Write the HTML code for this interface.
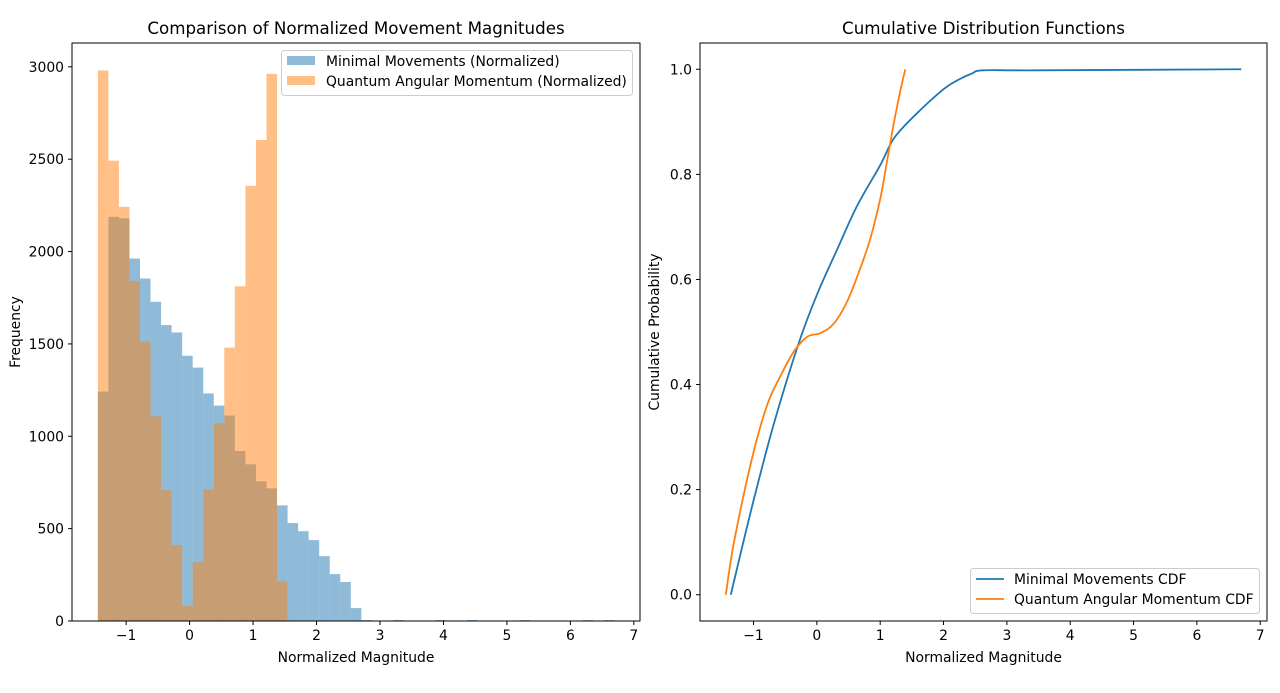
<!DOCTYPE html>
<html><head><meta charset="utf-8"><style>
body{margin:0;background:#fff}
svg text{font-family:"DejaVu Sans","Liberation Sans",sans-serif;fill:#000}
</style></head><body>
<svg id="fig" width="1280" height="688" viewBox="0 0 1280 688" xmlns="http://www.w3.org/2000/svg">
<rect width="1280" height="688" fill="#fff"/>
<g id="left"></g>
<g id="right"></g>
</svg>
<script>
// ---- Histogram data ----
const binStart = -1.446;
const binWidth = 0.1661;
const minimalCounts = [1242,2188,2180,1962,1854,1728,1602,1562,1436,1372,1232,1166,1112,920,848,756,718,626,530,486,438,351,254,211,70,5,0,0,5,0,0,0,5,0,0,5,0,0,0,0,5,0,0,0,0,0,5,0,5];
const quantumCounts = [2980,2492,2242,1840,1512,1108,708,412,82,318,712,1070,1480,1812,2356,2604,2962,214];
const histXTicks = [-1,0,1,2,3,4,5,6,7];
const histYTicks = [0,500,1000,1500,2000,2500,3000];
// ---- CDF data ----
const minimalCdfX = [-1.359,-1.019,-0.677,-0.283,0.005,0.32,0.635,1.003,1.213,1.528,2.0,2.25,2.45,2.63,3.5,6.7];
const minimalCdfY = [0,0.17,0.326,0.48,0.572,0.657,0.74,0.818,0.868,0.91,0.962,0.981,0.992,0.998,0.998,1.0];
const quantumCdfX = [-1.438,-1.307,-1.019,-0.782,-0.572,-0.362,-0.152,0.058,0.268,0.478,0.688,0.845,1.003,1.108,1.213,1.318,1.396];
const quantumCdfY = [0,0.101,0.262,0.362,0.417,0.463,0.491,0.498,0.516,0.558,0.622,0.678,0.755,0.825,0.896,0.959,1.0];
const cdfXTicks = [-1,0,1,2,3,4,5,6,7];
const cdfYTicks = [0,0.2,0.4,0.6,0.8,1.0];

const NS="http://www.w3.org/2000/svg";
function mk(parent,tag,attrs,text){const e=document.createElementNS(NS,tag);for(const k in attrs)e.setAttribute(k,attrs[k]);if(text!==undefined)e.textContent=text;parent.appendChild(e);return e;}
function fmtTick(v){return v<0?'\u2212'+Math.abs(v):String(v);}
const FS=13.9, TFS=16.7;

// ---- Left panel ----
(function(){
const g=document.getElementById('left');
const L=72,R=640,T=43,B=621;
const x0=-1.853,x1=7.097,y0=0,y1=3129;
const sx=v=>L+(v-x0)/(x1-x0)*(R-L);
const sy=v=>B-(v-y0)/(y1-y0)*(B-T);
minimalCounts.forEach((c,i)=>{ if(c<=0)return;
  const a=binStart+i*binWidth;
  const r=mk(g,'rect',{x:sx(a),y:sy(c),width:sx(a+binWidth)-sx(a),height:sy(0)-sy(c),fill:'#1f77b4','fill-opacity':0.5});
  
  
});
quantumCounts.forEach((c,i)=>{ if(c<=0)return;
  const a=binStart+i*binWidth;
  const r=mk(g,'rect',{x:sx(a),y:sy(c),width:sx(a+binWidth)-sx(a),height:sy(0)-sy(c),fill:'#ff7f0e','fill-opacity':0.5});
  
  
});
const f=mk(g,'rect',{x:L,y:T,width:R-L,height:B-T,fill:'none',stroke:'#000','stroke-width':1});


histXTicks.forEach(v=>{const x=sx(v);
  mk(g,'line',{x1:x,x2:x,y1:B,y2:B+4,stroke:'#000'});
  const t=mk(g,'text',{x:x,y:B+19,'text-anchor':'middle','font-size':FS},fmtTick(v));
  
  
});
histYTicks.forEach(v=>{const y=sy(v);
  mk(g,'line',{x1:L-4,x2:L,y1:y,y2:y,stroke:'#000'});
  const t=mk(g,'text',{x:L-8,y:y+5,'text-anchor':'end','font-size':FS},String(v));
  
  
});
const tt=mk(g,'text',{x:(L+R)/2,y:34,'text-anchor':'middle','font-size':TFS},'Comparison of Normalized Movement Magnitudes');

const xl=mk(g,'text',{x:(L+R)/2,y:662,'text-anchor':'middle','font-size':FS},'Normalized Magnitude');

const yl=mk(g,'text',{x:0,y:0,'text-anchor':'middle','font-size':FS,transform:`translate(20,${(T+B)/2}) rotate(-90)`},'Frequency');

const lg=mk(g,'g',{});

mk(lg,'rect',{x:281.5,y:50.5,width:351,height:45,rx:3,fill:'#fff','fill-opacity':0.8,stroke:'#ccc'});
mk(lg,'rect',{x:287,y:56,width:28,height:9,fill:'#1f77b4','fill-opacity':0.5});
mk(lg,'text',{x:326,y:66,'font-size':FS},'Minimal Movements (Normalized)');
mk(lg,'rect',{x:287,y:76,width:28,height:9,fill:'#ff7f0e','fill-opacity':0.5});
mk(lg,'text',{x:326,y:86,'font-size':FS},'Quantum Angular Momentum (Normalized)');
})();

// ---- Right panel ----
(function(){
const g=document.getElementById('right');
const L=700,R=1267,T=43,B=621;
const x0=-1.845,x1=7.107,y0=-0.05,y1=1.05;
const sx=v=>L+(v-x0)/(x1-x0)*(R-L);
const sy=v=>B-(v-y0)/(y1-y0)*(B-T);
function line(xs,ys,color,name){
  const pts=xs.map((x,i)=>[sx(x),sy(ys[i])]);
  let d='M'+pts[0][0]+','+pts[0][1];
  for(let i=0;i<pts.length-1;i++){
    const p0=pts[Math.max(0,i-1)],p1=pts[i],p2=pts[i+1],p3=pts[Math.min(pts.length-1,i+2)];
    const c1=[p1[0]+(p2[0]-p0[0])/6,p1[1]+(p2[1]-p0[1])/6];
    const c2=[p2[0]-(p3[0]-p1[0])/6,p2[1]-(p3[1]-p1[1])/6];
    d+=` C${c1[0]},${c1[1]} ${c2[0]},${c2[1]} ${p2[0]},${p2[1]}`;
  }
  const p=mk(g,'path',{d:d,fill:'none',stroke:color,'stroke-width':1.8});
  
  
}
line(minimalCdfX,minimalCdfY,'#1f77b4','minimal-cdf-line');
line(quantumCdfX,quantumCdfY,'#ff7f0e','quantum-cdf-line');
const f=mk(g,'rect',{x:L,y:T,width:R-L,height:B-T,fill:'none',stroke:'#000','stroke-width':1});


cdfXTicks.forEach(v=>{const x=sx(v);
  mk(g,'line',{x1:x,x2:x,y1:B,y2:B+4,stroke:'#000'});
  const t=mk(g,'text',{x:x,y:B+19,'text-anchor':'middle','font-size':FS},fmtTick(v));
  
  
});
cdfYTicks.forEach(v=>{const y=sy(v);
  mk(g,'line',{x1:L-4,x2:L,y1:y,y2:y,stroke:'#000'});
  const t=mk(g,'text',{x:L-8,y:y+5,'text-anchor':'end','font-size':FS},v.toFixed(1));
  
  
});
const tt=mk(g,'text',{x:(L+R)/2,y:34,'text-anchor':'middle','font-size':TFS},'Cumulative Distribution Functions');

const xl=mk(g,'text',{x:(L+R)/2,y:662,'text-anchor':'middle','font-size':FS},'Normalized Magnitude');

const yl=mk(g,'text',{x:0,y:0,'text-anchor':'middle','font-size':FS,transform:`translate(659,${(T+B)/2}) rotate(-90)`},'Cumulative Probability');

const lg=mk(g,'g',{});

mk(lg,'rect',{x:970.5,y:568.5,width:289,height:45,rx:3,fill:'#fff','fill-opacity':0.8,stroke:'#ccc'});
mk(lg,'line',{x1:976,x2:1004,y1:579,y2:579,stroke:'#1f77b4','stroke-width':1.8});
mk(lg,'text',{x:1014,y:584,'font-size':FS},'Minimal Movements CDF');
mk(lg,'line',{x1:976,x2:1004,y1:599,y2:599,stroke:'#ff7f0e','stroke-width':1.8});
mk(lg,'text',{x:1014,y:604,'font-size':FS},'Quantum Angular Momentum CDF');
})();
</script>
</body></html>
